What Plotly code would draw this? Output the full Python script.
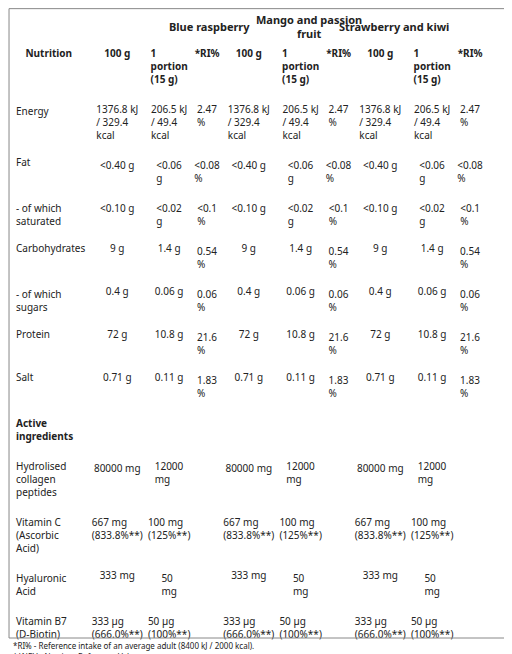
import plotly.graph_objects as go

W, H = 512, 654

flavours = ["Blue raspberry", "Mango and passion<br>fruit", "Strawberry and kiwi"]
col_heads = ["<b>Nutrition</b>", "<b>100 g</b>", "<b>1<br>portion<br>(15 g)</b>", "<b>*RI%</b>"]

rows = [
    "<br>Energy", "Fat", "- of which<br>saturated", "Carbohydrates", "- of which<br>sugars",
    "Protein", "Salt", "<b>Active<br>ingredients</b>",
    "Hydrolised<br>collagen<br>peptides", "Vitamin C<br>(Ascorbic<br>Acid)", "Hyaluronic<br>Acid",
    "Vitamin B7<br>(D-Biotin)",
]
per_100g = [
    "1376.8 kJ<br>/ 329.4<br>kcal", "<0.40 g", "<0.10 g", "9 g", "0.4 g", "72 g", "0.71 g", "",
    "<br>80000 mg", "667 mg<br>(833.8%**)", "333 mg", "333 µg<br>(666.0%**)",
]
per_portion = [
    "206.5 kJ<br>/ 49.4<br>kcal", "<0.06 g", "<0.02 g", "1.4 g", "0.06 g", "10.8 g", "0.11 g", "",
    "12000<br>mg", "100 mg<br>(125%**)", "50 mg", "50 µg<br>(100%**)",
]
ri_pct = [
    "2.47<br>%", "<0.08<br>%", "<0.1<br>%", "0.54<br>%", "0.06<br>%", "21.6<br>%", "1.83<br>%", "",
    "", "", "", "",
]
notes = [
    "*RI% - Reference intake of an average adult (8400 kJ / 2000 kcal).",
    "**NRV - Nutrient Reference Values.",
]

values = [rows]
for _ in flavours:
    values += [per_100g, per_portion, ri_pct]
heads = [col_heads[0]] + col_heads[1:] * 3

font = dict(family="Noto Sans", size=10, color="#222222")
fig = go.Figure(go.Table(
    domain=dict(x=[0.0, 0.93], y=[1 - 632 / H, 1 - 30 / H]),
    columnwidth=[88, 60, 52, 30, 60, 52, 30, 60, 52, 30],
    header=dict(values=heads, align="center", height=10,
                fill_color="white", line_color="white", font=font),
    cells=dict(values=values, align=["left"] + ["center"] * 9, height=10,
               fill_color="white", line_color="white", font=font),
))

group_x = [(88 + 142 / 2) / 512, (230 + 142 / 2) / 512, (372 + 142 / 2) / 512]
for name, gx in zip(flavours, group_x):
    fig.add_annotation(x=gx, y=1 - 18 / H, xref="paper", yref="paper", text=f"<b>{name}</b>",
                       showarrow=False, font=dict(family="Noto Sans", size=11, color="#222222"),
                       yanchor="middle")
for i, n in enumerate(notes):
    fig.add_annotation(x=0.005, y=1 - (637 + i * 11) / H, xref="paper", yref="paper", text=n,
                       showarrow=False, xanchor="left", yanchor="middle",
                       font=dict(family="Noto Sans", size=8, color="#222222"))

fig.add_shape(type="rect", xref="paper", yref="paper", x0=0.002, x1=0.998, y0=1 - 630 / H, y1=0.999,
              line=dict(color="#888888", width=1))
fig.update_layout(width=W, height=H, margin=dict(l=0, r=0, t=0, b=0),
                  paper_bgcolor="white", plot_bgcolor="white")
fig.write_html("out.html")
